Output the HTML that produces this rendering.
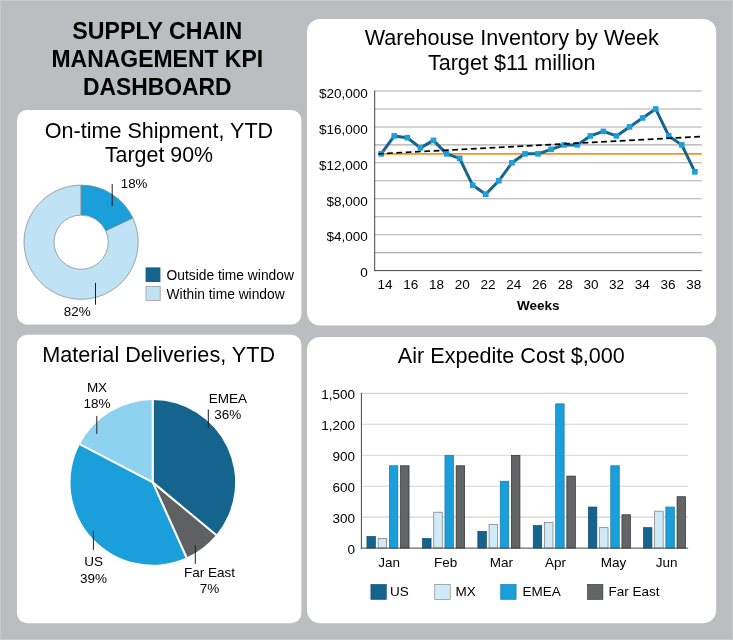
<!DOCTYPE html>
<html><head><meta charset="utf-8"><title>Supply Chain Management KPI Dashboard</title>
<style>html,body{margin:0;padding:0;background:#bcbdc0;}body{width:733px;height:640px;overflow:hidden;font-family:"Liberation Sans",sans-serif;}svg{display:block;will-change:transform}text{font-family:"Liberation Sans",sans-serif;fill:#000}</style></head><body>
<svg width="733" height="640" viewBox="0 0 733 640">
<rect x="0" y="0" width="733" height="640" fill="#bcbdc0"/>
<rect x="0.5" y="0.5" width="732" height="639" fill="none" stroke="#c9cacc" stroke-width="1"/>
<rect x="17" y="110" width="284.40" height="214.50" rx="10" ry="10" fill="#ffffff"/>
<rect x="307" y="19" width="409.20" height="306.50" rx="13" ry="13" fill="#ffffff"/>
<rect x="17" y="334.7" width="284.40" height="288.60" rx="10" ry="10" fill="#ffffff"/>
<rect x="307" y="337" width="409.20" height="286.30" rx="13" ry="13" fill="#ffffff"/>
<text x="157.3" y="39.3" font-size="23" font-weight="bold" text-anchor="middle" textLength="170.0" lengthAdjust="spacingAndGlyphs">SUPPLY CHAIN</text>
<text x="157.3" y="67.0" font-size="23" font-weight="bold" text-anchor="middle" textLength="211.6" lengthAdjust="spacingAndGlyphs">MANAGEMENT KPI</text>
<text x="157.3" y="95.0" font-size="23" font-weight="bold" text-anchor="middle" textLength="148.6" lengthAdjust="spacingAndGlyphs">DASHBOARD</text>
<text x="159" y="138" font-size="21.55" text-anchor="middle">On-time Shipment, YTD</text>
<text x="159" y="162.1" font-size="21.4" text-anchor="middle">Target 90%</text>
<path d="M132.77,217.89 A57.1,57.1 0 1 1 81.10,185.10 L81.10,215.10 A27.1,27.1 0 1 0 105.62,230.66 Z" fill="#bfe3f5" stroke="#808285" stroke-width="0.7" stroke-linejoin="round"/>
<path d="M81.10,185.10 A57.1,57.1 0 0 1 132.77,217.89 L105.62,230.66 A27.1,27.1 0 0 0 81.10,215.10 Z" fill="#1a9fda" stroke="#808285" stroke-width="0.7" stroke-linejoin="round"/>
<line x1="112.2" y1="184" x2="112.2" y2="206.3" stroke="#231f20" stroke-width="1"/>
<line x1="95.5" y1="282.9" x2="95.5" y2="304.7" stroke="#231f20" stroke-width="1"/>
<text x="120.8" y="188.0" font-size="13.3">18%</text>
<text x="63.8" y="316.4" font-size="13.4">82%</text>
<rect x="145.6" y="267.4" width="14.8" height="14.6" fill="#15648d"/>
<rect x="146" y="286.5" width="14.2" height="14" fill="#bfe3f5" stroke="#9a9c9f" stroke-width="0.8"/>
<text x="166.6" y="279.8" font-size="13.8">Outside time window</text>
<text x="166.6" y="299.3" font-size="13.8">Within time window</text>
<text x="511.7" y="45.0" font-size="21.6" text-anchor="middle">Warehouse Inventory by Week</text>
<text x="511.7" y="69.8" font-size="21.6" text-anchor="middle">Target $11 million</text>
<line x1="374.7" y1="252.64" x2="701.8" y2="252.64" stroke="#adadad" stroke-width="1.05"/>
<line x1="374.7" y1="234.68" x2="701.8" y2="234.68" stroke="#adadad" stroke-width="1.05"/>
<line x1="374.7" y1="216.72" x2="701.8" y2="216.72" stroke="#adadad" stroke-width="1.05"/>
<line x1="374.7" y1="198.76" x2="701.8" y2="198.76" stroke="#adadad" stroke-width="1.05"/>
<line x1="374.7" y1="180.80" x2="701.8" y2="180.80" stroke="#adadad" stroke-width="1.05"/>
<line x1="374.7" y1="162.84" x2="701.8" y2="162.84" stroke="#adadad" stroke-width="1.05"/>
<line x1="374.7" y1="144.88" x2="701.8" y2="144.88" stroke="#adadad" stroke-width="1.05"/>
<line x1="374.7" y1="126.92" x2="701.8" y2="126.92" stroke="#adadad" stroke-width="1.05"/>
<line x1="374.7" y1="108.96" x2="701.8" y2="108.96" stroke="#adadad" stroke-width="1.05"/>
<line x1="374.7" y1="91.00" x2="701.8" y2="91.00" stroke="#adadad" stroke-width="1.05"/>
<text x="367.7" y="277.40" font-size="13.5" text-anchor="end">0</text>
<text x="367.7" y="241.48" font-size="13.5" text-anchor="end">$4,000</text>
<text x="367.7" y="205.56" font-size="13.5" text-anchor="end">$8,000</text>
<text x="367.7" y="169.64" font-size="13.5" text-anchor="end">$12,000</text>
<text x="367.7" y="133.72" font-size="13.5" text-anchor="end">$16,000</text>
<text x="367.7" y="97.80" font-size="13.5" text-anchor="end">$20,000</text>
<line x1="378.6" y1="153.86" x2="701.8" y2="153.86" stroke="#f7941d" stroke-width="1.8"/>
<polyline points="381.20,153.86 394.27,135.90 407.34,137.70 420.41,147.84 433.48,140.39 446.55,153.86 459.62,158.35 472.69,185.29 485.76,194.27 498.83,180.80 511.90,162.84 524.97,153.86 538.04,153.86 551.11,149.37 564.18,144.88 577.25,144.88 590.32,135.90 603.39,131.41 616.46,135.90 629.53,126.92 642.60,117.94 655.67,108.96 668.74,135.90 681.81,144.88 694.88,171.82" fill="none" stroke="#15648d" stroke-width="3" stroke-linejoin="round" stroke-linecap="round"/>
<rect x="378.40" y="151.06" width="5.6" height="5.6" fill="#1a9fda"/>
<rect x="391.47" y="133.10" width="5.6" height="5.6" fill="#1a9fda"/>
<rect x="404.54" y="134.90" width="5.6" height="5.6" fill="#1a9fda"/>
<rect x="417.61" y="145.04" width="5.6" height="5.6" fill="#1a9fda"/>
<rect x="430.68" y="137.59" width="5.6" height="5.6" fill="#1a9fda"/>
<rect x="443.75" y="151.06" width="5.6" height="5.6" fill="#1a9fda"/>
<rect x="456.82" y="155.55" width="5.6" height="5.6" fill="#1a9fda"/>
<rect x="469.89" y="182.49" width="5.6" height="5.6" fill="#1a9fda"/>
<rect x="482.96" y="191.47" width="5.6" height="5.6" fill="#1a9fda"/>
<rect x="496.03" y="178.00" width="5.6" height="5.6" fill="#1a9fda"/>
<rect x="509.10" y="160.04" width="5.6" height="5.6" fill="#1a9fda"/>
<rect x="522.17" y="151.06" width="5.6" height="5.6" fill="#1a9fda"/>
<rect x="535.24" y="151.06" width="5.6" height="5.6" fill="#1a9fda"/>
<rect x="548.31" y="146.57" width="5.6" height="5.6" fill="#1a9fda"/>
<rect x="561.38" y="142.08" width="5.6" height="5.6" fill="#1a9fda"/>
<rect x="574.45" y="142.08" width="5.6" height="5.6" fill="#1a9fda"/>
<rect x="587.52" y="133.10" width="5.6" height="5.6" fill="#1a9fda"/>
<rect x="600.59" y="128.61" width="5.6" height="5.6" fill="#1a9fda"/>
<rect x="613.66" y="133.10" width="5.6" height="5.6" fill="#1a9fda"/>
<rect x="626.73" y="124.12" width="5.6" height="5.6" fill="#1a9fda"/>
<rect x="639.80" y="115.14" width="5.6" height="5.6" fill="#1a9fda"/>
<rect x="652.87" y="106.16" width="5.6" height="5.6" fill="#1a9fda"/>
<rect x="665.94" y="133.10" width="5.6" height="5.6" fill="#1a9fda"/>
<rect x="679.01" y="142.08" width="5.6" height="5.6" fill="#1a9fda"/>
<rect x="692.08" y="169.02" width="5.6" height="5.6" fill="#1a9fda"/>
<line x1="378.4" y1="153.85" x2="700" y2="136.6" stroke="#000" stroke-width="1.6" stroke-dasharray="5.8,3.52" stroke-dashoffset="0.6"/>
<line x1="374.7" y1="90.50" x2="374.7" y2="271.20" stroke="#454545" stroke-width="1"/>
<line x1="374.09999999999997" y1="270.6" x2="701.8" y2="270.6" stroke="#454545" stroke-width="1"/>
<text x="385.10" y="288.8" font-size="13.5" text-anchor="middle">14</text>
<text x="410.83" y="288.8" font-size="13.5" text-anchor="middle">16</text>
<text x="436.55" y="288.8" font-size="13.5" text-anchor="middle">18</text>
<text x="462.28" y="288.8" font-size="13.5" text-anchor="middle">20</text>
<text x="488.00" y="288.8" font-size="13.5" text-anchor="middle">22</text>
<text x="513.73" y="288.8" font-size="13.5" text-anchor="middle">24</text>
<text x="539.45" y="288.8" font-size="13.5" text-anchor="middle">26</text>
<text x="565.18" y="288.8" font-size="13.5" text-anchor="middle">28</text>
<text x="590.90" y="288.8" font-size="13.5" text-anchor="middle">30</text>
<text x="616.62" y="288.8" font-size="13.5" text-anchor="middle">32</text>
<text x="642.35" y="288.8" font-size="13.5" text-anchor="middle">34</text>
<text x="668.08" y="288.8" font-size="13.5" text-anchor="middle">36</text>
<text x="693.80" y="288.8" font-size="13.5" text-anchor="middle">38</text>
<text x="538.2" y="310.3" font-size="13.5" font-weight="bold" text-anchor="middle">Weeks</text>
<text x="158.7" y="361.9" font-size="21.65" text-anchor="middle">Material Deliveries, YTD</text>
<path d="M152.8,482.4 L152.80,400.10 A82.3,82.3 0 0 1 216.12,534.97 Z" fill="#15648d"/>
<path d="M152.8,482.4 L216.12,534.97 A82.3,82.3 0 0 1 186.54,557.47 Z" fill="#5f6062"/>
<path d="M152.8,482.4 L186.54,557.47 A82.3,82.3 0 0 1 79.87,444.27 Z" fill="#1a9fda"/>
<path d="M152.8,482.4 L79.87,444.27 A82.3,82.3 0 0 1 152.80,400.10 Z" fill="#8dd3f0"/>
<line x1="152.8" y1="482.4" x2="152.80" y2="399.30" stroke="#fff" stroke-width="2.1" stroke-linecap="butt"/>
<line x1="152.8" y1="482.4" x2="216.74" y2="535.48" stroke="#fff" stroke-width="2.1" stroke-linecap="butt"/>
<line x1="152.8" y1="482.4" x2="186.86" y2="558.20" stroke="#fff" stroke-width="2.1" stroke-linecap="butt"/>
<line x1="152.8" y1="482.4" x2="79.16" y2="443.90" stroke="#fff" stroke-width="2.1" stroke-linecap="butt"/>
<line x1="96.8" y1="415.9" x2="96.8" y2="434" stroke="#231f20" stroke-width="1"/>
<line x1="208.3" y1="409.4" x2="208.3" y2="428.3" stroke="#231f20" stroke-width="1"/>
<line x1="93.4" y1="531" x2="93.4" y2="550.1" stroke="#231f20" stroke-width="1"/>
<line x1="195.3" y1="545.2" x2="195.3" y2="563.9" stroke="#231f20" stroke-width="1"/>
<text x="97" y="392" font-size="13.5" text-anchor="middle">MX</text>
<text x="97" y="408.3" font-size="13.5" text-anchor="middle">18%</text>
<text x="227.8" y="402.7" font-size="13.5" text-anchor="middle">EMEA</text>
<text x="227.8" y="418.7" font-size="13.5" text-anchor="middle">36%</text>
<text x="93.6" y="566.4" font-size="13.5" text-anchor="middle">US</text>
<text x="93.6" y="583.1" font-size="13.5" text-anchor="middle">39%</text>
<text x="209.6" y="576.7" font-size="13.5" text-anchor="middle">Far East</text>
<text x="209.6" y="592.9000000000001" font-size="13.5" text-anchor="middle">7%</text>
<text x="511.3" y="363.4" font-size="21.6" text-anchor="middle">Air Expedite Cost $,000</text>
<line x1="361.4" y1="517.15" x2="688.1" y2="517.15" stroke="#d4d4d4" stroke-width="1.1"/>
<line x1="361.4" y1="486.20" x2="688.1" y2="486.20" stroke="#d4d4d4" stroke-width="1.1"/>
<line x1="361.4" y1="455.25" x2="688.1" y2="455.25" stroke="#d4d4d4" stroke-width="1.1"/>
<line x1="361.4" y1="424.30" x2="688.1" y2="424.30" stroke="#d4d4d4" stroke-width="1.1"/>
<line x1="361.4" y1="393.35" x2="688.1" y2="393.35" stroke="#d4d4d4" stroke-width="1.1"/>
<text x="355.1" y="554.00" font-size="13.5" text-anchor="end">0</text>
<text x="355.1" y="523.05" font-size="13.5" text-anchor="end">300</text>
<text x="355.1" y="492.10" font-size="13.5" text-anchor="end">600</text>
<text x="355.1" y="461.15" font-size="13.5" text-anchor="end">900</text>
<text x="355.1" y="430.20" font-size="13.5" text-anchor="end">1,200</text>
<text x="355.1" y="399.25" font-size="13.5" text-anchor="end">1,500</text>
<rect x="366.95" y="536.44" width="8.5" height="11.66" fill="#15648d" stroke="#0d4a6a" stroke-width="0.7"/>
<rect x="378.15" y="538.50" width="8.5" height="9.60" fill="#d0eaf8" stroke="#77797c" stroke-width="0.7"/>
<rect x="389.35" y="465.77" width="8.5" height="82.33" fill="#1a9fda" stroke="#1279ab" stroke-width="0.7"/>
<rect x="400.55" y="465.77" width="8.5" height="82.33" fill="#636466" stroke="#2e2e30" stroke-width="0.7"/>
<rect x="422.55" y="538.50" width="8.5" height="9.60" fill="#15648d" stroke="#0d4a6a" stroke-width="0.7"/>
<rect x="433.75" y="512.19" width="8.5" height="35.91" fill="#d0eaf8" stroke="#77797c" stroke-width="0.7"/>
<rect x="444.95" y="455.45" width="8.5" height="92.65" fill="#1a9fda" stroke="#1279ab" stroke-width="0.7"/>
<rect x="456.15" y="465.77" width="8.5" height="82.33" fill="#636466" stroke="#2e2e30" stroke-width="0.7"/>
<rect x="477.85" y="531.28" width="8.5" height="16.82" fill="#15648d" stroke="#0d4a6a" stroke-width="0.7"/>
<rect x="489.05" y="524.57" width="8.5" height="23.53" fill="#d0eaf8" stroke="#77797c" stroke-width="0.7"/>
<rect x="500.25" y="481.24" width="8.5" height="66.86" fill="#1a9fda" stroke="#1279ab" stroke-width="0.7"/>
<rect x="511.45" y="455.45" width="8.5" height="92.65" fill="#636466" stroke="#2e2e30" stroke-width="0.7"/>
<rect x="533.25" y="525.60" width="8.5" height="22.50" fill="#15648d" stroke="#0d4a6a" stroke-width="0.7"/>
<rect x="544.45" y="522.51" width="8.5" height="25.59" fill="#d0eaf8" stroke="#77797c" stroke-width="0.7"/>
<rect x="555.65" y="403.87" width="8.5" height="144.23" fill="#1a9fda" stroke="#1279ab" stroke-width="0.7"/>
<rect x="566.85" y="476.08" width="8.5" height="72.02" fill="#636466" stroke="#2e2e30" stroke-width="0.7"/>
<rect x="588.35" y="507.03" width="8.5" height="41.07" fill="#15648d" stroke="#0d4a6a" stroke-width="0.7"/>
<rect x="599.55" y="527.67" width="8.5" height="20.43" fill="#d0eaf8" stroke="#77797c" stroke-width="0.7"/>
<rect x="610.75" y="465.77" width="8.5" height="82.33" fill="#1a9fda" stroke="#1279ab" stroke-width="0.7"/>
<rect x="621.95" y="514.77" width="8.5" height="33.33" fill="#636466" stroke="#2e2e30" stroke-width="0.7"/>
<rect x="643.45" y="527.67" width="8.5" height="20.43" fill="#15648d" stroke="#0d4a6a" stroke-width="0.7"/>
<rect x="654.65" y="511.16" width="8.5" height="36.94" fill="#d0eaf8" stroke="#77797c" stroke-width="0.7"/>
<rect x="665.85" y="507.03" width="8.5" height="41.07" fill="#1a9fda" stroke="#1279ab" stroke-width="0.7"/>
<rect x="677.05" y="496.72" width="8.5" height="51.38" fill="#636466" stroke="#2e2e30" stroke-width="0.7"/>
<line x1="361.4" y1="392.85" x2="361.4" y2="548.70" stroke="#454545" stroke-width="1"/>
<line x1="360.79999999999995" y1="548.1" x2="688.1" y2="548.1" stroke="#454545" stroke-width="1"/>
<text x="389.2" y="566.8" font-size="13.5" text-anchor="middle">Jan</text>
<text x="445.7" y="566.8" font-size="13.5" text-anchor="middle">Feb</text>
<text x="501.3" y="566.8" font-size="13.5" text-anchor="middle">Mar</text>
<text x="555.4" y="566.8" font-size="13.5" text-anchor="middle">Apr</text>
<text x="613.5" y="566.8" font-size="13.5" text-anchor="middle">May</text>
<text x="666.7" y="566.8" font-size="13.5" text-anchor="middle">Jun</text>
<rect x="370.90000000000003" y="584.4" width="15.4" height="15" fill="#15648d" stroke="#0d4a6a" stroke-width="0.6"/>
<text x="390.09999999999997" y="595.9" font-size="13.5">US</text>
<rect x="434.8" y="584.4" width="15.4" height="15" fill="#d0eaf8" stroke="#77797c" stroke-width="0.6"/>
<text x="455.4" y="595.9" font-size="13.5">MX</text>
<rect x="500.7" y="584.4" width="15.4" height="15" fill="#1a9fda" stroke="#1279ab" stroke-width="0.6"/>
<text x="522.5" y="595.9" font-size="13.5">EMEA</text>
<rect x="587.5" y="584.4" width="15.4" height="15" fill="#636466" stroke="#2e2e30" stroke-width="0.6"/>
<text x="608.4" y="595.9" font-size="13.5">Far East</text>
</svg></body></html>
